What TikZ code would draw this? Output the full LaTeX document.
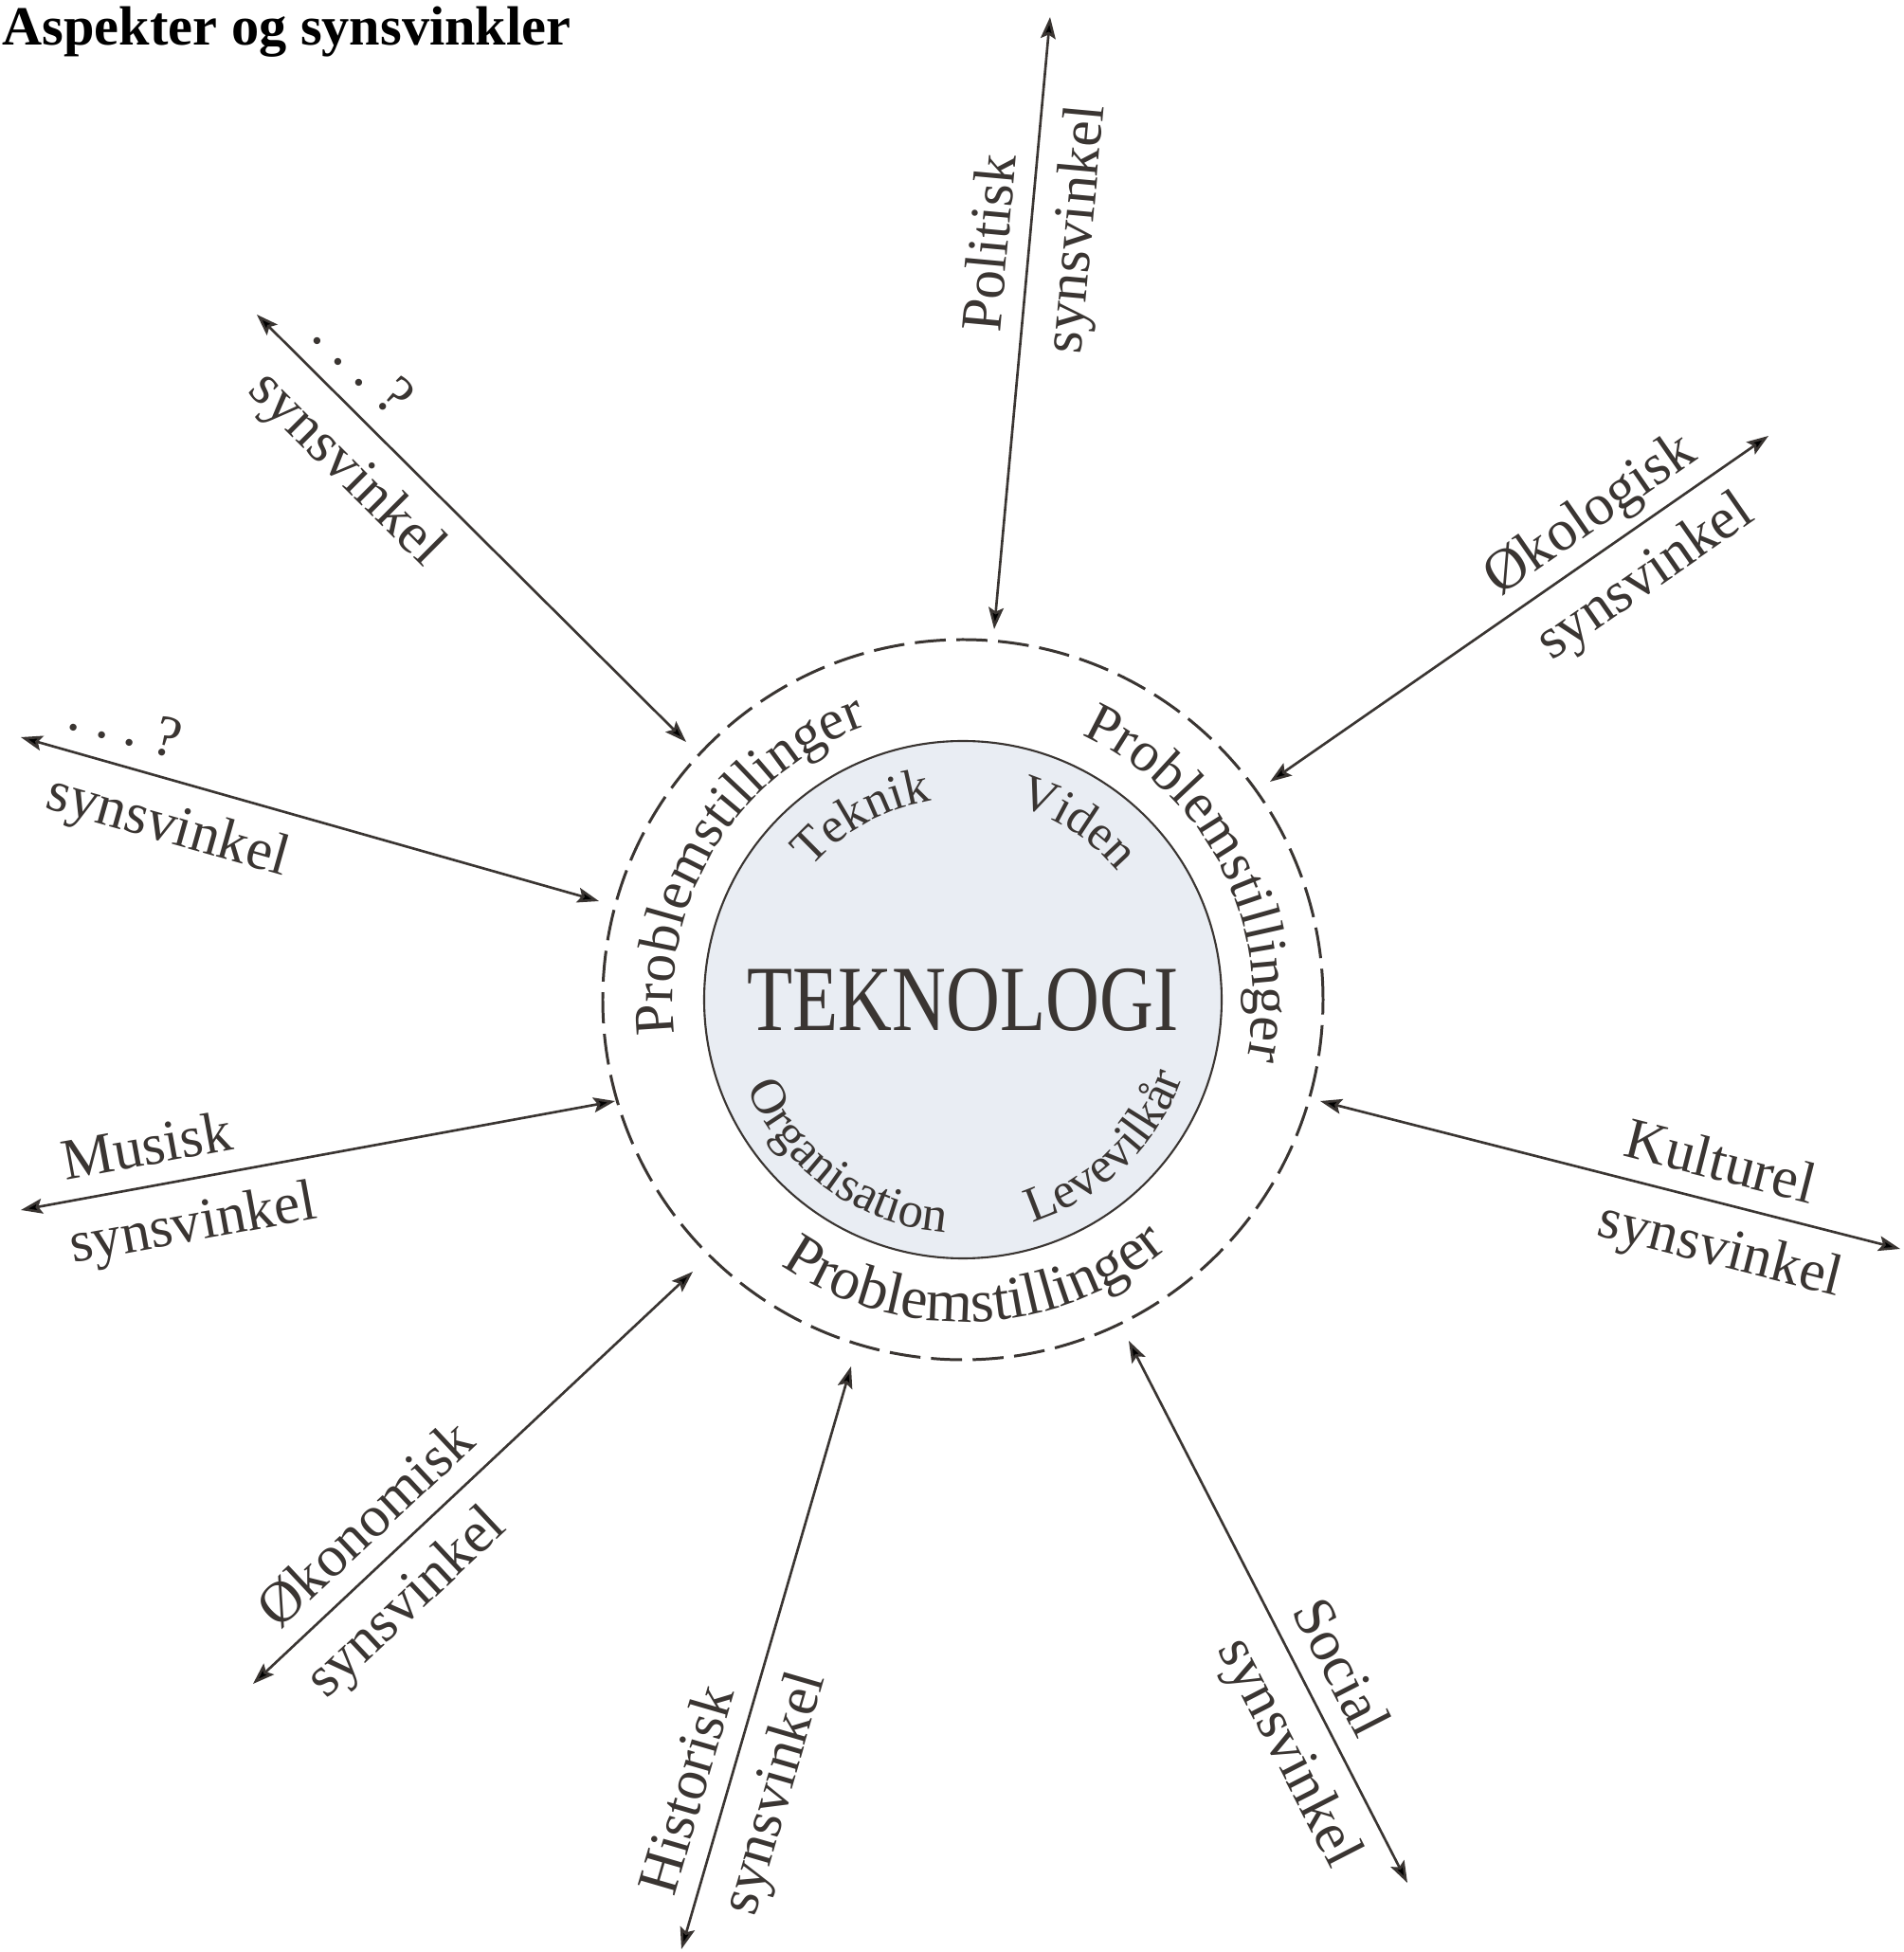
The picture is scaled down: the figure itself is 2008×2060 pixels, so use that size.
\documentclass[tikz,border=0pt]{standalone}
\usepackage{fontspec}
\setmainfont{Liberation Serif}
\newfontfamily\narrowserif[FakeStretch=0.8]{Liberation Serif}
\usepackage{tikz}
\usetikzlibrary{arrows.meta,decorations.text}
\definecolor{ink}{RGB}{58,53,50}
\definecolor{corefill}{RGB}{233,237,243}
\newcommand\probfont{\fontsize{17}{20}\selectfont}
\newcommand\probfontlow{\fontsize{18}{21}\selectfont}
\newcommand\aspectfont{\fontsize{15}{18}\selectfont}

\begin{document}
\begin{tikzpicture}[
  x=0.1mm, y=0.1mm,
  >={Stealth[length=6.5pt,width=4.5pt,inset=1.2pt]},
  every node/.style = {text=ink},
  link/.style = {<->, draw=ink, line width=0.75pt},
  lbl/.style = {font=\fontsize{17.5}{21}\selectfont, sloped, inner sep=6pt},
  lblup/.style = {lbl, above, text depth=0pt},
  lbldn/.style = {lbl, below},
  ring/.style = {draw=ink, line width=0.85pt, dash pattern=on 9.3pt off 3.2pt},
  core/.style = {circle, draw=ink, line width=0.6pt, fill=corefill, minimum size=5.46cm,
                 inner sep=0pt, font=\narrowserif\fontsize{28}{30}\selectfont},
  arctext/.style = {decorate, decoration={text along path, text color=ink,
                    text align=center, text={#1}}}
]
  \useasboundingbox (-1016,-1005) rectangle (992,1055);
  \fill[white] (-1016,-1005) rectangle (992,1055);
  \coordinate (c) at (0,0);

  \node[anchor=base west, inner sep=0pt, text=black, font=\bfseries\fontsize{16.6}{20}\selectfont]
    (title) at (-1014,1007) {Aspekter og synsvinkler};

  \draw[ring] (c) circle[radius=380];
  \node[core] (tek) at (c) {TEKNOLOGI};

  \path[arctext={|\probfont|Problemstillinger}] (198:306) arc[start angle=198, end angle=98, radius=306];
  \path[arctext={|\probfont|Problemstillinger}] (77:306) arc[start angle=77, end angle=-23, radius=306];
  \path[arctext={|\probfontlow|Problemstillinger}] (222.5:340) arc[start angle=222.5, end angle=322.5, radius=340];
  \path[arctext={|\aspectfont|Teknik}] (159:212) arc[start angle=159, end angle=79, radius=212];
  \path[arctext={|\aspectfont|Viden}] (97:212) arc[start angle=97, end angle=17, radius=212];
  \path[arctext={|\aspectfont|Organisation}] (189:246) arc[start angle=189, end angle=279, radius=246];
  \path[arctext={|\aspectfont|Levevilkår}] (274:246) arc[start angle=274, end angle=354, radius=246];

  \coordinate (pol-in) at (33,391);     \coordinate (pol-out) at (92,1037);
  \coordinate (oko-in) at (324,230);    \coordinate (oko-out) at (850,595);
  \coordinate (kul-in) at (377,-107);   \coordinate (kul-out) at (989,-263);
  \coordinate (soc-in) at (175,-360);   \coordinate (soc-out) at (469,-932);
  \coordinate (his-in) at (-118,-387);  \coordinate (his-out) at (-297,-1002);
  \coordinate (okn-in) at (-285,-287);  \coordinate (okn-out) at (-749,-722);
  \coordinate (mus-in) at (-367,-107);  \coordinate (mus-out) at (-994,-222);
  \coordinate (qlo-in) at (-384,104);   \coordinate (qlo-out) at (-994,277);
  \coordinate (qhi-in) at (-292,272);   \coordinate (qhi-out) at (-745,723);

  \draw[link] (pol-in) -- node[lblup, pos=.625] (pol-a) {Politisk}
                          node[lbldn, pos=.66] (pol-b) {synsvinkel} (pol-out);
  \draw[link] (oko-in) -- node[lblup, pos=.685] (oko-a) {Økologisk}
                          node[lbldn, pos=.70] (oko-b) {synsvinkel} (oko-out);
  \draw[link] (kul-in) -- node[lblup, pos=.673] (kul-a) {Kulturel}
                          node[lbldn, pos=.709] (kul-b) {synsvinkel} (kul-out);
  \draw[link] (soc-in) -- node[lblup, pos=.636] (soc-a) {Social}
                          node[lbldn, pos=.721] (soc-b) {synsvinkel} (soc-out);
  \draw[link] (his-out) -- node[lblup, pos=.255] (his-a) {Historisk}
                           node[lbldn, pos=.289] (his-b) {synsvinkel} (his-in);
  \draw[link] (okn-out) -- node[lblup, pos=.318] (okn-a) {Økonomisk}
                           node[lbldn, pos=.278] (okn-b) {synsvinkel} (okn-in);
  \draw[link] (mus-out) -- node[lblup, pos=.224] (mus-a) {Musisk}
                           node[lbldn, pos=.276] (mus-b) {synsvinkel} (mus-in);
  \draw[link] (qlo-out) -- node[lblup, pos=.162] (qlo-a) {.~.~.~?}
                           node[lbldn, pos=.276] (qlo-b) {synsvinkel} (qlo-in);
  \draw[link] (qhi-out) -- node[lblup, pos=.184] (qhi-a) {.~.~.~?}
                           node[lbldn, pos=.285] (qhi-b) {synsvinkel} (qhi-in);
\end{tikzpicture}
\end{document}
